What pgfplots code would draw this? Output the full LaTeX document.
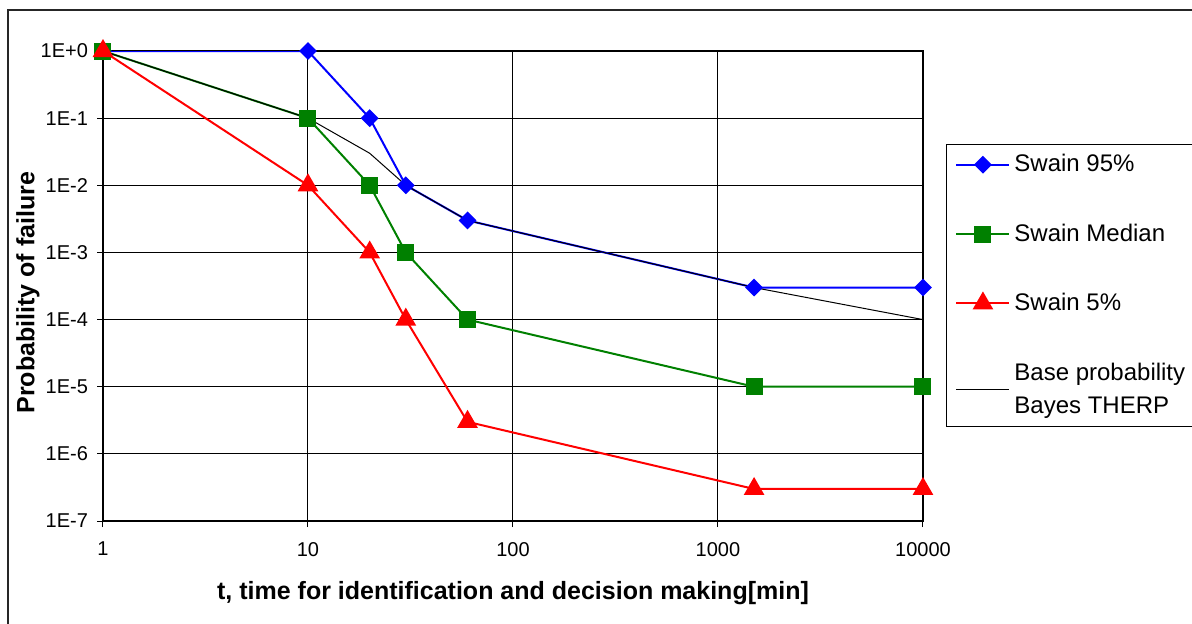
\documentclass[border=0pt]{standalone}
\usepackage{fontspec}
\setmainfont{Liberation Sans}
\usepackage{pgfplots}
\pgfplotsset{compat=1.18}
\definecolor{exgreen}{RGB}{0,128,0}
\begin{document}
\begin{tikzpicture}[x=0.5pt,y=0.5pt]
\useasboundingbox (0,0) rectangle (1192,623);
\draw[black!85, line width=0.7pt] (8,-5) -- (8,613) -- (1197,613);
\begin{axis}[
  at={(51.5pt,51pt)}, anchor=south west,
  width=410pt, height=235pt, scale only axis,
  xmode=log, ymode=log,
  xmin=1, xmax=10000, ymin=1e-7, ymax=1,
  xtick={1,10,100,1000,10000},
  xticklabels={1,10,100,1000,10000},
  ytick={1e-7,1e-6,1e-5,1e-4,1e-3,1e-2,1e-1,1},
  yticklabels={1E-7,1E-6,1E-5,1E-4,1E-3,1E-2,1E-1,1E+0},
  xminorticks=false, yminorticks=false,
  tick pos=left, tick align=outside,
  major tick length=3pt,
  tick style={black, line width=0.5pt},
  grid=major,
  major grid style={black, line width=0.5pt},
  axis line style={black, line width=0.6pt},
  ticklabel style={font=\fontsize{10}{12}\selectfont},
  xticklabel style={yshift=-4pt},
  yticklabel style={xshift=-1pt},
  xlabel={\bfseries t, time for identification and decision making[min]},
  ylabel={\bfseries Probability of failure},
  label style={font=\fontsize{12.5}{15}\selectfont},
  xlabel style={at={(axis description cs:0.5,-0.153)}, anchor=center},
  ylabel style={at={(axis description cs:-0.0915,0.486)}, anchor=center},
  legend style={at={(axis description cs:1.028,0.8022)}, anchor=north west,
    draw=black, line width=0.5pt, font=\fontsize{12}{16.5}\selectfont,
    row sep=20.5pt, inner xsep=4.5pt, inner ysep=3pt,
    nodes={align=left}},
  legend cell align=left,
  legend image code/.code={\draw[mark repeat=2, mark phase=2, #1] plot coordinates {(0pt,0pt) (13.25pt,0pt) (26.5pt,0pt)};},
]
\addplot[blue, line width=1pt, mark=square*, mark size=2.65pt, mark options={rotate=45, fill=blue, solid}]
  coordinates {(1,1) (10,1) (20,0.1) (30,0.01) (60,0.003) (1500,3e-4) (10000,3e-4)};
\addlegendentry{Swain 95\%}
\addplot[exgreen, line width=1pt, mark=square*, mark size=3.75pt, mark options={fill=exgreen, solid}]
  coordinates {(1,1) (10,0.1) (20,0.01) (30,0.001) (60,1e-4) (1500,1e-5) (10000,1e-5)};
\addlegendentry{Swain Median}
\addplot[red, line width=1pt, mark=triangle*, mark size=5pt, mark options={fill=red, solid}]
  coordinates {(1,1) (10,0.01) (20,0.001) (30,1e-4) (60,3e-6) (1500,3e-7) (10000,3e-7)};
\addlegendentry{Swain 5\%}
\addplot[black, line width=0.5pt, no marks]
  coordinates {(1,1) (10,0.1) (20,0.03) (30,0.01) (60,0.003) (1500,3e-4) (10000,1e-4)};
\addlegendentry{Base probability\\Bayes THERP}
\end{axis}
\end{tikzpicture}
\end{document}
